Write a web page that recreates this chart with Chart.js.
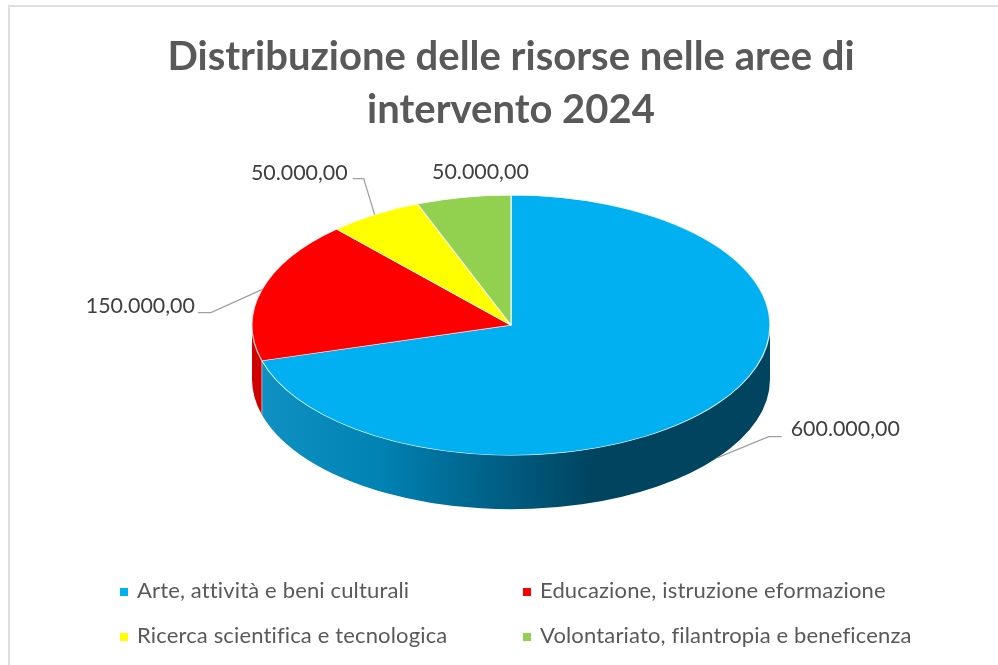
<!DOCTYPE html>
<html lang="it">
<head>
<meta charset="utf-8">
<title>Distribuzione delle risorse</title>
<style>html,body{margin:0;padding:0;background:#fff}canvas{display:block}</style>
<script src="https://cdn.jsdelivr.net/npm/chart.js@4"></script>
</head>
<body>
<canvas id="c" width="998" height="665"></canvas>
<script>
const titleLines = ["Distribuzione delle risorse nelle aree di", "intervento 2024"];
const categories = ["Arte, attività e beni culturali", "Educazione, istruzione eformazione", "Ricerca scientifica e tecnologica", "Volontariato, filantropia e beneficenza"];
const values = [600000, 150000, 50000, 50000];
const sliceColors = ["#00B0F0", "#FF0000", "#FFFF00", "#92D050"];

const FONT = "Lato, 'Open Sans', sans-serif";
const RX = 259, RY = 130, DEPTH = 54;
const fmt = v => v.toLocaleString("it-IT", {minimumFractionDigits: 2, maximumFractionDigits: 2});

// label placement per slice: elbow offset from rim point, end offset, text anchor
const labelLayout = [
  {elbow: [51, -21], end: [64, -21], text: [73, -28], align: "left", depth: true},
  {elbow: [-51, 23], end: [-64, 23], text: [-67, 16], align: "right"},
  {elbow: [-11, -36], end: [-22, -36], text: [-27, -42], align: "right"},
  {text: [17, -25], align: "center", noLine: true}
];
const legendLayout = [[120, 592], [523, 592], [120, 637], [523, 637]];

const project = (arc, ang, dy) => ({
  x: arc.x + RX * Math.cos(ang),
  y: arc.y + RY * Math.sin(ang) + (dy || 0)
});

const pie3d = {
  id: "pie3d",
  beforeDraw(chart) {
    const c = chart.ctx;
    c.save();
    c.fillStyle = "#fff";
    c.fillRect(0, 0, chart.width, chart.height);
    c.fillStyle = "#dfdfdf";
    c.fillRect(8, 5, chart.width - 8, 2);
    c.fillRect(8, 5, 2, chart.height - 5);
    c.restore();
  },
  beforeDatasetsDraw(chart) {
    const c = chart.ctx;
    const arcs = chart.getDatasetMeta(0).data;
    const a0 = arcs[0];
    // side wall: front half of each slice
    arcs.forEach((arc, i) => {
      const norm = a => { let x = a; while (x < -Math.PI / 2) x += 2 * Math.PI; return x; };
      const s = norm(arc.startAngle), e = s + (arc.endAngle - arc.startAngle);
      const from = Math.max(s, 0), to = Math.min(e, Math.PI);
      if (to <= from) return;
      c.save();
      c.beginPath();
      c.ellipse(arc.x, arc.y, RX, RY, 0, from, to);
      c.ellipse(arc.x, arc.y + DEPTH, RX, RY, 0, to, from, true);
      c.closePath();
      if (i === 0) {
        const g = c.createLinearGradient(arc.x - RX, 0, arc.x + RX, 0);
        g.addColorStop(0, "#1092c4");
        g.addColorStop(0.25, "#0082b2");
        g.addColorStop(0.52, "#00587c");
        g.addColorStop(0.66, "#00445f");
        g.addColorStop(1, "#00445f");
        c.fillStyle = g;
      } else {
        c.fillStyle = "#cf0000";
      }
      c.fill();
      c.restore();
    });
    // edge between blue and red on the wall
    const p = project(a0, a0.endAngle);
    c.save();
    c.strokeStyle = "rgba(255,255,255,.45)";
    c.lineWidth = 1;
    c.beginPath();
    c.moveTo(p.x, p.y);
    c.lineTo(p.x, p.y + DEPTH);
    c.stroke();
    c.restore();
    // squash the library's round pie into the tilted ellipse
    const r = a0.outerRadius;
    c.save();
    c.translate(a0.x, a0.y);
    c.scale(RX / r, RY / r);
    c.translate(-a0.x, -a0.y);
  },
  afterDatasetsDraw(chart) {
    const c = chart.ctx;
    c.restore();
    const arcs = chart.getDatasetMeta(0).data;
    // data labels + leader lines
    arcs.forEach((arc, i) => {
      const L = labelLayout[i];
      const mid = (arc.startAngle + arc.endAngle) / 2;
      const p = project(arc, mid, L.depth ? DEPTH : 0);
      c.save();
      if (!L.noLine) {
        c.strokeStyle = "#a0a0a0";
        c.lineWidth = 1.3;
        c.beginPath();
        c.moveTo(p.x, p.y);
        c.lineTo(p.x + L.elbow[0], p.y + L.elbow[1]);
        c.lineTo(p.x + L.end[0], p.y + L.end[1]);
        c.stroke();
      }
      c.fillStyle = "#404040";
      c.font = "21.4px " + FONT;
      c.textAlign = L.align;
      c.textBaseline = "middle";
      c.fillText(fmt(values[i]), p.x + L.text[0], p.y + L.text[1]);
      c.restore();
    });
    // legend, two columns
    categories.forEach((label, i) => {
      const [x, y] = legendLayout[i];
      c.save();
      c.fillStyle = sliceColors[i];
      c.fillRect(x, y - 4, 8, 8);
      c.fillStyle = "#595959";
      c.font = "22px " + FONT;
      c.letterSpacing = "0.15px";
      c.textAlign = "left";
      c.textBaseline = "middle";
      c.fillText(label, x + 17, y - 1);
      c.restore();
    });
  }
};

new Chart(document.getElementById("c"), {
  type: "pie",
  data: {
    labels: categories,
    datasets: [{
      data: values,
      backgroundColor: sliceColors,
      borderColor: "rgba(255,255,255,.75)",
      borderWidth: 1
    }]
  },
  plugins: [pie3d],
  options: {
    responsive: false,
    animation: false,
    devicePixelRatio: 1,
    layout: {padding: {left: 24, right: 0, top: 0, bottom: 151}},
    plugins: {
      legend: {display: false},
      tooltip: {enabled: false},
      title: {
        display: true,
        text: titleLines,
        color: "#595959",
        font: {family: FONT, size: 40, weight: "bold", lineHeight: 1.33},
        padding: {top: 30, bottom: 0}
      }
    }
  }
});
</script>
</body>
</html>
